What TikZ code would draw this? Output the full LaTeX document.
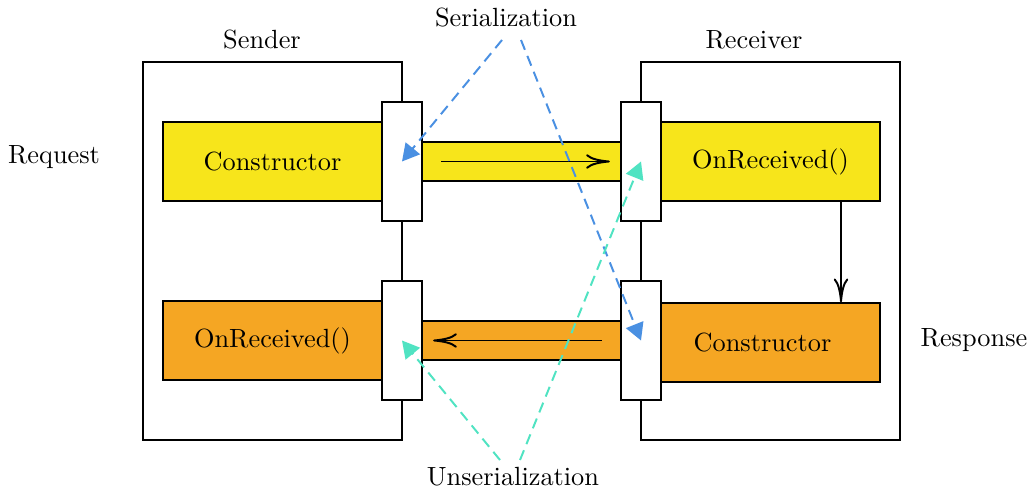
\documentclass[tikz,border=0pt]{standalone}
\usetikzlibrary{arrows.meta,calc}
\definecolor{cyel}{HTML}{F7E51B}
\definecolor{corg}{HTML}{F5A623}
\definecolor{cblue}{HTML}{4A90E2}
\definecolor{cteal}{HTML}{50E3C2}
\tikzset{
  sz/.style 2 args={minimum width=#1*0.38pt, minimum height=#2*0.38pt},
  frame/.style={draw, line width=0.6pt, inner sep=0pt},
  portbox/.style={frame, fill=white, sz={40}{119}},
  yblock/.style={frame, fill=cyel, sz={219}{79}},
  oblock/.style={frame, fill=corg, sz={219}{79}},
  ybar/.style={frame, fill=cyel, sz={199}{39}},
  obar/.style={frame, fill=corg, sz={199}{39}},
  outer/.style={frame, sz={259}{378}},
  flow/.style={line width=0.75pt, -{To[length=9pt,width=5.5pt]}},
  hint/.style={line width=0.75pt, dash pattern=on 4pt off 2.5pt, -{Triangle[length=6.5pt,width=7pt]}},
  serline/.style={hint, cblue},
  unserline/.style={hint, cteal},
  lbl/.style={inner sep=1pt}
}
\begin{document}
\begin{tikzpicture}[x=0.38pt, y=-0.38pt]
\useasboundingbox (0,0) rectangle (1033,494);

% sender and receiver frames
\node[outer] (sender) at (272.5,251) {};
\node[outer] (receiver) at (770.5,251) {};

% request path
\node[yblock] (sctor) at (272.5,161.5) {Constructor};
\node[ybar] (reqbar) at (521.5,161.5) {};
\node[yblock] (rrecv) at (770.5,161.5) {OnReceived()};

% response path
\node[oblock] (srecv) at (272.5,340.5) {OnReceived()};
\node[obar] (resbar) at (521.5,340.5) {};
\node[oblock, label={[xshift=-8*0.38pt]center:Constructor}] (rctor) at (770.5,342.5) {};

% ports
\node[portbox] (lpt) at (402,161.5) {};
\node[portbox] (lpb) at (402,340.5) {};
\node[portbox] (rpt) at (641,161.5) {};
\node[portbox] (rpb) at (641,340.5) {};

% labels
\node[lbl] (sendlbl) at (262,40) {Sender};
\node[lbl] (recvlbl) at (754,40) {Receiver};
\node[lbl] (reqlbl) at (54,157) {Request};
\node[lbl] (reslbl) at (974,340) {Response};
\node[lbl] (ser) at (506,18) {Serialization};
\node[lbl] (unser) at (513,477) {Unserialization};

% message flow
\draw[flow] ($(reqbar.west)+(20,0)$) -- ($(reqbar.east)+(-12,0)$);
\draw[flow] ($(resbar.east)+(-20,0)$) -- ($(resbar.west)+(12,0)$);
\draw[flow] ($(rrecv.south)+(70.5,0)$) -- ($(rctor.north)+(70.5,0)$);

% serialization / unserialization hints
\coordinate (s1) at (502,40);
\coordinate (s2) at (521,40);
\coordinate (u1) at (500,460);
\coordinate (u2) at (520,460);
\draw[serline] (s1) -- (lpt.center);
\draw[serline] (s2) -- (rpb.center);
\draw[unserline] (u1) -- (lpb.center);
\draw[unserline] (u2) -- (rpt.center);
\end{tikzpicture}
\end{document}
